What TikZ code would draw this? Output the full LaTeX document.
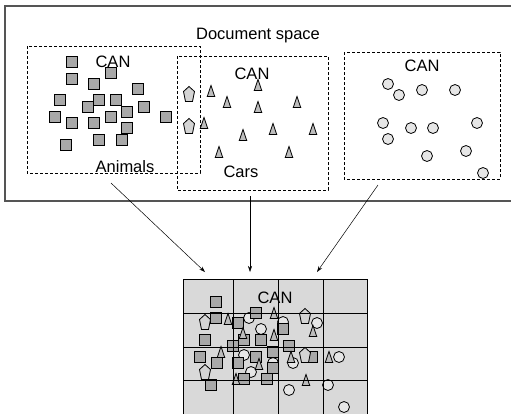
\documentclass[tikz,border=0pt]{standalone}
\usepackage{fontspec}
\setmainfont{Liberation Sans}
\usetikzlibrary{arrows.meta}

\definecolor{sqfill}{HTML}{A8A8A8}
\definecolor{trifill}{HTML}{BDBDBD}
\definecolor{pentfill}{HTML}{D4D4D4}
\definecolor{circfill}{HTML}{E6E6E6}
\definecolor{cellfill}{HTML}{D9D9D9}
\definecolor{framegray}{HTML}{555555}

\begin{document}
\begin{tikzpicture}[x=1pt, y=-1pt, >={Stealth[length=6pt,width=4pt]},
  lbl/.style={font=\fontsize{16.5}{18}\selectfont, inner sep=0pt, anchor=base},
  dbox/.style={densely dashed, line width=0.8pt},
  sq/.style={draw, fill=sqfill, line width=0.9pt},
  tri/.style={draw, fill=trifill, line width=0.8pt, line join=miter},
  pent/.style={draw, fill=pentfill, line width=0.8pt},
  circ/.style={draw, fill=circfill, line width=0.8pt}]
  \useasboundingbox (0,0) rectangle (511,413);
  % document space
  \draw[framegray, line width=1.3pt] (5,6) rectangle (515,201);
  \node[lbl] (docspace) at (258,39) {Document space};
  \draw[dbox] (27,46) rectangle (200,173);
  \draw[dbox] (177,56) rectangle (328,190);
  \draw[dbox] (344,52) rectangle (500,179);
  \node[lbl] (can1) at (113,67) {CAN};
  \node[lbl] (can2) at (252,79) {CAN};
  \node[lbl] (can3) at (422,71) {CAN};
  \node[lbl] (animals) at (125,172) {Animals};
  \node[lbl] (cars) at (241,177) {Cars};
  % animals
  \foreach \x/\y in {72/62,72/79,111/73,94/84,138/89,60/100,99/100,116/100,88/107,144/107,
                     127/112,55/117,72/123,94/123,111/117,166/117,127/128,99/140,122/140,66/145}
    \draw[sq] (\x-5.5,\y-5.5) rectangle ++(11,11);
  \foreach \x/\y in {189/94,189/126}
    \draw[pent] (\x,\y-7.5) -- (\x+5.5,\y-2.5) -- (\x+3.5,\y+7.5) -- (\x-3.5,\y+7.5) -- (\x-5.5,\y-2.5) -- cycle;
  % cars
  \foreach \x/\y in {211/91,258/85,227/102,258/107,297/102,204/123,243/135,273/129,313/129,219/152,289/152}
    \draw[tri] (\x-3.75,\y+5.5) -- (\x,\y-5.5) -- (\x+3.75,\y+5.5) -- cycle;
  % third cluster
  \foreach \x/\y in {388/84,399/95,422/90,455/90,383/123,411/128,433/128,388/139,477/123,427/156,466/151,483/173}
    \draw[circ] (\x,\y) circle[radius=5.5];
  % merged CAN
  \fill[cellfill] (183,279) rectangle (367,414);
  \foreach \x/\y in {249/318,261/329,283/322,317/323,244/355,273/363,251/372,293/363,339/357,289/390,328/385,344/407}
    \draw[circ] (\x,\y) circle[radius=5.5];
  \foreach \x/\y in {216/302,216/318,256/313,238/323,283/329,205/340,244/340,261/340,233/346,289/346,273/352,
                     200/357,217/363,238/363,256/357,273/368,244/379,267/379,211/385,312/357}
    \draw[sq] (\x-5.5,\y-5.5) rectangle ++(11,11);
  \foreach \x/\y in {228/319,274/313,243/333,274/335,221/352,313/331,259/364,236/379,291/357,329/357,306/380}
    \draw[tri] (\x-3.75,\y+5.5) -- (\x,\y-5.5) -- (\x+3.75,\y+5.5) -- cycle;
  \foreach \x/\y in {205/322,305/316,205/372,305/355}
    \draw[pent] (\x,\y-7.5) -- (\x+5.5,\y-2.5) -- (\x+3.5,\y+7.5) -- (\x-3.5,\y+7.5) -- (\x-5.5,\y-2.5) -- cycle;
  \draw[line width=0.9pt] (183,279) rectangle (367,414);
  \foreach \x in {233,278,323} \draw[line width=0.9pt] (\x,279) -- (\x,414);
  \foreach \y in {313,347,380} \draw[line width=0.9pt] (183,\y) -- (367,\y);
  \node[lbl] (can4) at (275,303) {CAN};
  % arrows
  \coordinate (from1) at (111,183);
  \coordinate (to1) at (205,272);
  \coordinate (from2) at (250,196);
  \coordinate (to2) at (250,272);
  \coordinate (from3) at (378,185);
  \coordinate (to3) at (317,272);
  \draw[->, line width=0.5pt] (from1) -- (to1);
  \draw[->, line width=0.5pt] (from2) -- (to2);
  \draw[->, line width=0.5pt] (from3) -- (to3);
\end{tikzpicture}
\end{document}
